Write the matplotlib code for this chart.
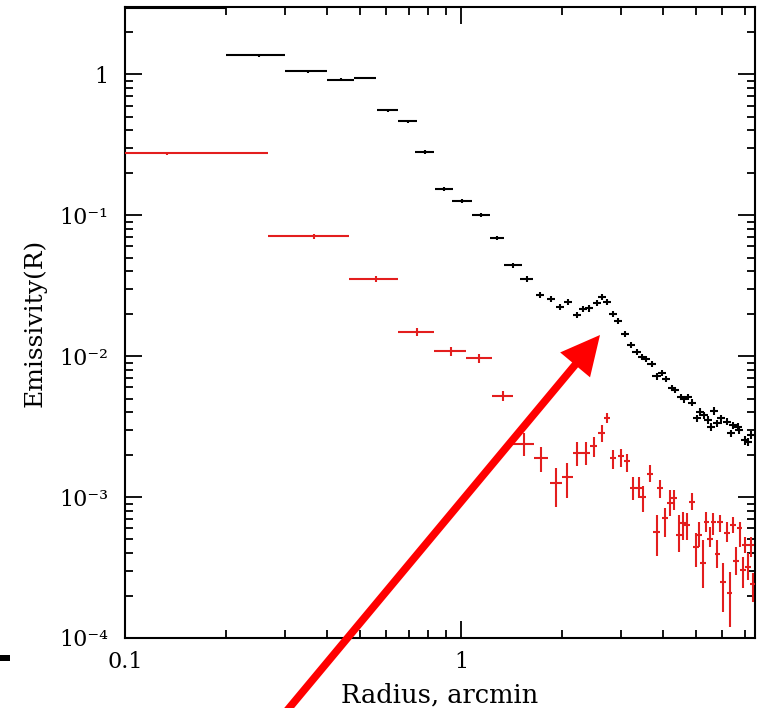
import numpy as np
import matplotlib
matplotlib.use("Agg")
import matplotlib.pyplot as plt
from matplotlib.ticker import FixedLocator, FixedFormatter, LogLocator, NullFormatter
from matplotlib.patches import FancyArrowPatch, Rectangle

plt.rcParams['font.family'] = ['DejaVu Serif']
plt.rcParams['mathtext.fontset'] = 'dejavuserif'

# ---------------- data ----------------
# black profile
bx = [0.15, 0.25, 0.35, 0.44, 0.52, 0.606, 0.696, 0.78, 0.89, 1.01, 1.15, 1.28, 1.43, 1.57,
      1.718, 1.853, 1.97, 2.08, 2.22, 2.31, 2.40, 2.54, 2.63, 2.72, 2.83, 2.93, 3.08, 3.21,
      3.33, 3.45, 3.56, 3.69, 3.82, 3.96, 4.07, 4.25, 4.33, 4.51, 4.60, 4.73, 4.87, 5.04,
      5.15, 5.29, 5.44, 5.56, 5.67, 5.80, 5.95, 6.20, 6.36, 6.45, 6.67, 6.72, 7.0, 7.15, 7.3]
by = [2.95, 1.36, 1.05, 0.917, 0.94, 0.555, 0.464, 0.28, 0.153, 0.126, 0.100, 0.0687, 0.0442,
      0.0352, 0.0271, 0.0254, 0.0223, 0.0241, 0.0195, 0.0216, 0.0218, 0.0238, 0.0262, 0.0241,
      0.0198, 0.0177, 0.0143, 0.01197, 0.01067, 0.00984, 0.00953, 0.00877, 0.00721, 0.00757,
      0.00687, 0.00593, 0.00574, 0.00512, 0.00494, 0.00512, 0.00468, 0.00363, 0.00401, 0.00381,
      0.00354, 0.00316, 0.00408, 0.00335, 0.00363, 0.00343, 0.00283, 0.00322, 0.00314, 0.00298,
      0.00253, 0.00246, 0.00275]
bxerr = [0.05, 0.05, 0.05, 0.042, 0.04, 0.042, 0.045, 0.049, 0.055, 0.07, 0.068, 0.06, 0.085,
         0.07, 0.05, 0.05, 0.055, 0.058, 0.062, 0.065, 0.067, 0.071, 0.074, 0.076, 0.079, 0.082,
         0.086, 0.09, 0.093, 0.097, 0.1, 0.103, 0.107, 0.111, 0.114, 0.119, 0.121, 0.126, 0.129,
         0.132, 0.136, 0.141, 0.144, 0.148, 0.152, 0.156, 0.159, 0.162, 0.167, 0.174, 0.178,
         0.181, 0.187, 0.188, 0.196, 0.2, 0.204]
byerr = [0.05, 0.03, 0.025, 0.02, 0.02, 0.015, 0.013, 0.008, 0.005, 0.004, 0.0035, 0.0025,
         0.0017, 0.0016, 0.0013, 0.0012, 0.0011, 0.0012, 0.001, 0.0011, 0.0011, 0.0012, 0.0013,
         0.0012, 0.001, 0.0009, 0.0007, 0.0006, 0.00055, 0.0005, 0.0005, 0.00045, 0.0004,
         0.0004, 0.00035, 0.0003, 0.0003, 0.00027, 0.00026, 0.00027, 0.00025, 0.00022, 0.00024,
         0.00023, 0.00022, 0.0002, 0.00025, 0.0002, 0.00022, 0.00021, 0.00018, 0.0002, 0.0002,
         0.00019, 0.00017, 0.00016, 0.00018]

# red profile
rx = [0.133, 0.365, 0.557, 0.740, 0.933, 1.135, 1.33, 1.54, 1.73, 1.92, 2.07, 2.22, 2.36, 2.48,
      2.62, 2.72, 2.83, 2.99, 3.12, 3.26, 3.39, 3.48, 3.66, 3.82, 3.92, 4.05, 4.19, 4.30, 4.45,
      4.57, 4.70, 4.87, 5.00, 5.12, 5.26, 5.37, 5.52, 5.64, 5.80, 5.92, 6.03, 6.20, 6.30, 6.45,
      6.60, 6.75, 6.90, 7.00, 7.15, 7.30, 7.40]
ry = [0.275, 0.071, 0.0352, 0.0148, 0.0108, 0.00968, 0.0052, 0.00238, 0.00189, 0.00126, 0.00139,
      0.00205, 0.00205, 0.0023, 0.00284, 0.00363, 0.00189, 0.00196, 0.0018, 0.00116, 0.00116,
      0.001, 0.00146, 0.000565, 0.00116, 0.00071, 0.000906, 0.00099, 0.000536, 0.00065, 0.00063,
      0.00092, 0.000442, 0.000536, 0.00034, 0.00066, 0.000508, 0.00066, 0.000396, 0.00066,
      0.000249, 0.00056, 0.000208, 0.00063, 0.000352, 0.0006, 0.000305, 0.00046, 0.00032,
      0.00046, 0.00024]
rx_lo = [0.01, 0.2665, 0.464, 0.649, 0.832, 1.034, 1.237, 1.428, 1.65, 1.84, 2.0, 2.16, 2.3,
         2.42, 2.55, 2.66, 2.77, 2.93, 3.055, 3.19, 3.32, 3.41, 3.585, 3.74, 3.84, 3.965, 4.105,
         4.21, 4.36, 4.475, 4.605, 4.77, 4.90, 5.02, 5.16, 5.27, 5.41, 5.53, 5.69, 5.80, 5.91,
         6.08, 6.18, 6.32, 6.47, 6.62, 6.77, 6.86, 7.01, 7.16, 7.26]
rx_hi = [0.2665, 0.464, 0.649, 0.832, 1.034, 1.237, 1.428, 1.65, 1.815, 2.0, 2.16, 2.3, 2.42,
         2.54, 2.69, 2.78, 2.89, 3.05, 3.185, 3.33, 3.46, 3.55, 3.735, 3.90, 4.00, 4.135, 4.275,
         4.39, 4.54, 4.665, 4.795, 4.97, 5.10, 5.22, 5.36, 5.47, 5.63, 5.75, 5.91, 6.04, 6.15,
         6.32, 6.42, 6.58, 6.73, 6.88, 7.03, 7.14, 7.29, 7.44, 7.54]
ry_lo = [0.268, 0.068, 0.0335, 0.0138, 0.0100, 0.0090, 0.0048, 0.00195, 0.00151, 0.000853,
         0.00098, 0.00166, 0.00168, 0.00193, 0.00247, 0.00333, 0.00157, 0.00164, 0.00151,
         0.000952, 0.00098, 0.000787, 0.00128, 0.000382, 0.00098, 0.000523, 0.000733, 0.000809,
         0.000409, 0.000495, 0.000495, 0.000809, 0.00032, 0.000444, 0.000225, 0.000567, 0.000444,
         0.000537, 0.000312, 0.000567, 0.000154, 0.000482, 0.00012, 0.000552, 0.00028, 0.000444,
         0.000225, 0.000399, 0.000258, 0.000378, 0.000181]
ry_hi = [0.282, 0.074, 0.037, 0.0159, 0.0117, 0.0104, 0.0057, 0.00283, 0.00227, 0.00162,
         0.00175, 0.00247, 0.00247, 0.00268, 0.00324, 0.00396, 0.00215, 0.00221, 0.00202,
         0.00138, 0.00138, 0.0012, 0.00169, 0.000745, 0.00133, 0.000832, 0.00112, 0.00112,
         0.000745, 0.000787, 0.000766, 0.00106, 0.000552, 0.000668, 0.000495, 0.000787, 0.000615,
         0.000766, 0.000495, 0.000745, 0.000339, 0.000668, 0.000295, 0.000725, 0.000444,
         0.000668, 0.000378, 0.000523, 0.000399, 0.000523, 0.000288]

xticks = [0.1, 1]
xtick_labels = ['0.1', '1']
yticks = [1e-4, 1e-3, 1e-2, 1e-1, 1]
ytick_labels = ['10\u207b\u2074', '10\u207b\u00b3', '10\u207b\u00b2', '10\u207b\u00b9', '1']

# ---------------- figure ----------------
W, H = 766, 708
fig = plt.figure(figsize=(W / 100, H / 100), dpi=100)
ax = fig.add_axes([125 / W, 1 - 638 / H, 630 / W, 631 / H])
ax.set_xscale('log')
ax.set_yscale('log')
ax.set_xlim(0.1, 7.5)
ax.set_ylim(1e-4, 3.0)

RED = '#e31e1e'
bx_a, by_a = np.array(bx), np.array(by)
ax.errorbar(bx_a, by_a, xerr=np.array(bxerr), yerr=np.array(byerr), fmt='none',
            ecolor='black', elinewidth=1.5, capsize=0, zorder=3)

rx_a, ry_a = np.array(rx), np.array(ry)
ax.errorbar(rx_a, ry_a,
            xerr=[rx_a - np.array(rx_lo), np.array(rx_hi) - rx_a],
            yerr=[ry_a - np.array(ry_lo), np.array(ry_hi) - ry_a],
            fmt='none', ecolor=RED, elinewidth=1.5, capsize=0, zorder=3)

ax.xaxis.set_major_locator(FixedLocator(xticks))
ax.xaxis.set_major_formatter(FixedFormatter(xtick_labels))
ax.xaxis.set_minor_locator(LogLocator(base=10, subs=np.arange(2, 10), numticks=20))
ax.xaxis.set_minor_formatter(NullFormatter())
ax.yaxis.set_major_locator(FixedLocator(yticks))
ax.yaxis.set_major_formatter(FixedFormatter(ytick_labels))
ax.yaxis.set_minor_locator(LogLocator(base=10, subs=np.arange(2, 10), numticks=20))
ax.yaxis.set_minor_formatter(NullFormatter())

ax.tick_params(which='both', direction='in', top=True, right=True, width=1.3, colors='black')
ax.tick_params(which='major', length=12, labelsize=16)
ax.tick_params(which='minor', length=6)
ax.tick_params(axis='x', which='major', pad=9)
ax.tick_params(axis='y', which='major', pad=12)
for s in ax.spines.values():
    s.set_linewidth(1.5)

ax.set_xlabel('Radius, arcmin', fontsize=18.5)
ax.set_ylabel('Emissivity(R)', fontsize=18)
ax.xaxis.set_label_coords(0.5, -0.07)
ax.yaxis.set_label_coords(-0.124, 0.5)

# red annotation arrow (figure pixels -> fraction)
def fp(x, y):
    return (x / W, 1 - y / H)

arrow = FancyArrowPatch(fp(270, 731), fp(600, 335), transform=fig.transFigure,
                        arrowstyle='simple,head_length=28,head_width=28,tail_width=5.5',
                        mutation_scale=1, shrinkA=0, shrinkB=0,
                        color='#ff0000', lw=0, clip_on=False, zorder=10)
fig.add_artist(arrow)

# small black mark at lower-left edge
fig.add_artist(Rectangle(fp(0, 661), 10 / W, 6 / H, transform=fig.transFigure,
                         color='black', lw=0))

fig.savefig('out.png', dpi=100)
